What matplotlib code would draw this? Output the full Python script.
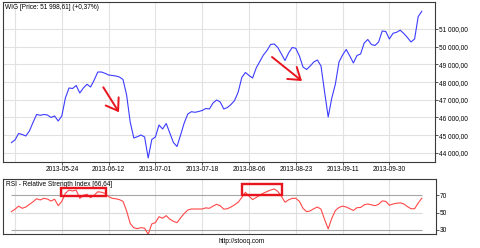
import matplotlib
matplotlib.use('Agg')
import matplotlib.pyplot as plt
from matplotlib.patches import Rectangle, FancyArrowPatch, ArrowStyle

# ---------------- data ----------------
price = [44580, 44730, 45096, 45040, 44955, 45237, 45717, 46169, 46124, 46169,
         46141, 46000, 46085, 45802, 46085, 47101, 47667, 47638, 47808, 47384,
         47667, 47876, 47723, 48118, 48570, 48570, 48497, 48401, 48373, 48345,
         48288, 48147, 47271, 45746, 44842, 44915, 45011, 44898, 43712, 44757,
         44898, 45576, 45350, 45661, 45124, 44587, 44361, 45011, 45689, 46197,
         46327, 46293, 46338, 46395, 46508, 46480, 46819, 46989, 46876, 46480,
         46565, 46734, 46960, 47440, 48260, 48542, 48373, 48232, 48796, 49164,
         49531, 49785, 50124, 50153, 49955, 49588, 49220, 49644, 49955, 49910,
         49475, 48853, 48712, 48910, 49136, 49249, 48910, 47440, 46028, 47101,
         47893, 49136, 49531, 49842, 49475, 49079, 49503, 49588, 50209, 50407,
         50124, 50068, 50265, 50887, 50859, 50435, 50757, 50814, 50932, 50746,
         50520, 50265, 50435, 51700, 51998.61]

rsi = [51.1, 53.9, 57.5, 55.0, 56.5, 59.5, 62.5, 66.0, 64.6, 66.5,
       65.7, 63.4, 65.5, 58.0, 63.0, 72.3, 76.0, 75.0, 76.0, 66.5,
       70.0, 71.2, 67.3, 70.0, 74.1, 73.5, 72.3, 68.5, 66.5, 66.0,
       65.0, 63.0, 52.0, 37.5, 32.5, 31.5, 32.7, 32.0, 25.0, 37.0,
       38.5, 45.3, 43.5, 46.5, 42.5, 40.0, 38.4, 44.0, 49.0, 53.0,
       54.2, 54.2, 54.2, 54.2, 55.5, 55.0, 57.5, 59.6, 58.0, 54.0,
       54.5, 56.5, 59.0, 62.0, 67.5, 73.5, 69.0, 65.0, 67.5, 70.0,
       72.5, 74.3, 76.0, 77.3, 74.5, 68.8, 62.0, 64.8, 66.5, 66.5,
       63.0, 55.0, 51.1, 52.0, 54.5, 56.5, 54.0, 42.0, 31.2, 43.5,
       52.5, 56.0, 57.5, 56.5, 54.5, 52.5, 55.7, 56.0, 59.0, 60.0,
       59.0, 58.0, 59.6, 63.5, 63.0, 58.5, 60.0, 60.8, 61.3, 60.0,
       57.0, 54.5, 54.5, 61.0, 66.64]

date_tick_index = [14, 27, 40, 53, 66, 79, 92, 105]
date_tick_labels = ['2013-05-24', '2013-06-12', '2013-07-01', '2013-07-18',
                    '2013-08-06', '2013-08-23', '2013-09-11', '2013-09-30']
extra_grid_index = [1]
price_ticks = [44000, 45000, 46000, 47000, 48000, 49000, 50000, 51000]
price_tick_labels = ['44 000,00', '45 000,00', '46 000,00', '47 000,00',
                     '48 000,00', '49 000,00', '50 000,00', '51 000,00']
rsi_ticks = [30, 50, 70]

price_title = 'WIG [Price: 51 998,61] (+0,37%)'
rsi_title = 'RSI - Relative Strength Index [66,64]'
footer = 'http://stooq.com'

# ---------------- style ----------------
FONT = ['Liberation Sans', 'DejaVu Sans']
FS = 4.7
plt.rcParams['font.family'] = FONT
plt.rcParams['font.size'] = FS

W, H = 480, 248
fig = plt.figure(figsize=(W / 100, H / 100), dpi=100)
fig.patch.set_facecolor('white')


def rect(l, t, r, b):
    return [l / W, 1 - b / H, (r - l) / W, (b - t) / H]


def px2idx(x):
    return (x - 11.4) / 3.6


ax1 = fig.add_axes(rect(3, 2, 435, 162))
ax2 = fig.add_axes(rect(3, 179, 436, 234.3))

idx = list(range(len(price)))
grid_c = '#e2e2e2'
spine_c = '#3a3a3a'

for ax in (ax1, ax2):
    for s in ax.spines.values():
        s.set_color(spine_c)
        s.set_linewidth(0.8)
    for xi in extra_grid_index + date_tick_index:
        ax.axvline(xi, color=grid_c, lw=0.8, zorder=0)

# price panel
ax1.plot(idx, price, color='#3c3cff', lw=0.8, zorder=3)
for v in price_ticks:
    ax1.axhline(v, color=grid_c, lw=0.8, zorder=0)
ax1.set_xlim(px2idx(3), px2idx(435))
ax1.set_ylim(43485, 52525)
ax1.yaxis.tick_right()
ax1.set_yticks(price_ticks)
ax1.set_yticklabels(price_tick_labels)
ax1.set_xticks(date_tick_index)
ax1.set_xticklabels(date_tick_labels)
ax1.tick_params(axis='both', length=1.8, width=0.6, color=spine_c, pad=1.2,
                labelsize=FS)

# RSI panel
ax2.plot(idx, rsi, color='#ff4848', lw=0.8, zorder=3)
ax2.hlines([70, 30], 0, len(rsi) - 1, color='#a6a6a6', lw=0.8, zorder=1)
ax2.hlines([50], 0, len(rsi) - 1, color='#dadada', lw=0.8, zorder=1)
ax2.set_xlim(px2idx(3), px2idx(436))
ax2.set_ylim(25, 88.8)
ax2.yaxis.tick_right()
ax2.set_yticks(rsi_ticks)
ax2.set_xticks([])
ax2.tick_params(axis='y', length=1.8, width=0.6, color=spine_c, pad=1.2,
                labelsize=FS)

# texts
fig.text(5 / W, 1 - 7.5 / H, price_title, fontsize=FS, va='center', ha='left')
fig.text(6 / W, 1 - 184.5 / H, rsi_title, fontsize=FS, va='center', ha='left')
fig.text(241.5 / W, 1 - 241.5 / H, footer, fontsize=FS, va='center', ha='center')

# annotations (red boxes and arrows), in figure pixels
red = '#e8141e'
boxes = [(60.7, 187.7, 106, 195.7), (241.7, 184.3, 282.3, 195)]
for l, t, r, b in boxes:
    fig.patches.append(Rectangle((l / W, 1 - b / H), (r - l) / W, (b - t) / H,
                                 transform=fig.transFigure, fill=False,
                                 edgecolor=red, lw=1.7, zorder=10))

arrows = [((103.3, 87.3), (119, 112.3)), ((272, 57), (302, 81))]
style = ArrowStyle('->', head_length=0.8, head_width=0.55)
for (x0, y0), (x1, y1) in arrows:
    fig.patches.append(FancyArrowPatch((x0 / W, 1 - y0 / H), (x1 / W, 1 - y1 / H),
                                       transform=fig.transFigure,
                                       arrowstyle=style, mutation_scale=10,
                                       color=red, lw=1.4, zorder=10,
                                       shrinkA=0, shrinkB=0))

fig.savefig('out.png', dpi=100)
